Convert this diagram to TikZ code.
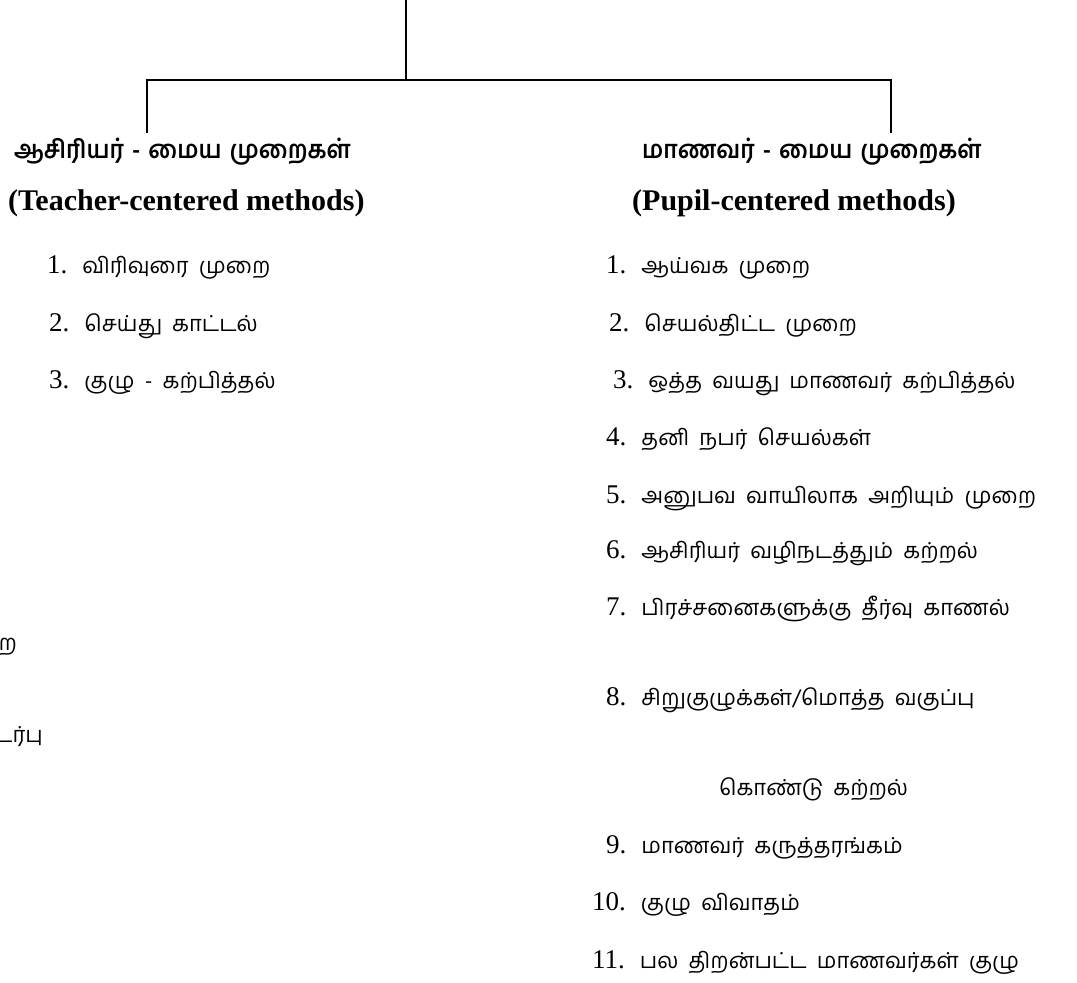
\documentclass[tikz,border=0pt]{standalone}
\usepackage{fontspec}
\setmainfont{Liberation Serif}
\newfontfamily\tamil[Script=Tamil,WordSpace=1.9]{Hind Madurai}
\newfontfamily\tamilhead[Script=Tamil,WordSpace=1.4,FakeStretch=0.93]{Hind Madurai}
\newcommand{\numgap}{\hspace{15pt}}
\tikzset{
  item/.style = {anchor=base west, inner sep=0pt, font=\fontsize{27}{30}\selectfont},
  headtam/.style = {anchor=base west, inner sep=0pt, font=\fontsize{25}{30}\selectfont\tamilhead\bfseries},
  headeng/.style = {anchor=base west, inner sep=0pt, font=\fontsize{30}{36}\selectfont\bfseries},
  cut/.style = {anchor=base east, inner sep=0pt, font=\fontsize{22}{28}\selectfont\tamil}
}
\newcommand{\tm}[1]{{\fontsize{22}{28}\selectfont\tamil #1}}
\begin{document}
\begin{tikzpicture}[x=1pt, y=-1pt]
\useasboundingbox (0,0) rectangle (1077,983);
\begin{scope}
\coordinate (root) at (406,0);
\coordinate (split) at (406,80);
\coordinate (lend) at (147,133);
\coordinate (rend) at (891,133);
\node[headtam] (lhead) at (14,158) {ஆசிரியர் - மைய முறைகள்};
\node[headtam] (rhead) at (642,158) {மாணவர் - மைய முறைகள்};
\node[headeng] (leng) at (8,210) {(Teacher-centered methods)};
\node[headeng] (reng) at (632,210) {(Pupil-centered methods)};
\node[item] (l1) at (47,273) {1.\numgap\tm{விரிவுரை முறை}};
\node[item] (l2) at (49,331) {2.\numgap\tm{செய்து காட்டல்}};
\node[item] (l3) at (49,388) {3.\numgap\tm{குழு - கற்பித்தல்}};
\node[item] (r1) at (606,273) {1.\numgap\tm{ஆய்வக முறை}};
\node[item] (r2) at (609,331) {2.\numgap\tm{செயல்திட்ட முறை}};
\node[item] (r3) at (613,388) {3.\numgap\tm{ஒத்த வயது மாணவர் கற்பித்தல்}};
\node[item] (r4) at (606,445) {4.\numgap\tm{தனி நபர் செயல்கள்}};
\node[item] (r5) at (606,503) {5.\numgap\tm{அனுபவ வாயிலாக அறியும் முறை}};
\node[item] (r6) at (606,558) {6.\numgap\tm{ஆசிரியர் வழிநடத்தும் கற்றல்}};
\node[item] (r7) at (606,615) {7.\numgap\tm{பிரச்சனைகளுக்கு தீர்வு காணல்}};
\node[item] (r8) at (606,705) {8.\numgap\tm{சிறுகுழுக்கள்/மொத்த வகுப்பு}};
\node[item] (r8b) at (719,795) {\tm{கொண்டு கற்றல்}};
\node[item] (r9) at (606,853) {9.\numgap\tm{மாணவர் கருத்தரங்கம்}};
\node[item] (r10) at (592,910) {10.\numgap\tm{குழு விவாதம்}};
\node[item] (r11) at (592,968) {11.\numgap\tm{பல திறன்பட்ட மாணவர்கள் குழு}};
\node[cut] (c1) at (17,650) {முறை};
\node[cut] (c2) at (43,742) {தொடர்பு};
\end{scope}
\begin{scope}[line width=2pt]
\draw (root) -- (split);
\draw (lend) |- (split) -| (rend);
\end{scope}
\end{tikzpicture}
\end{document}
